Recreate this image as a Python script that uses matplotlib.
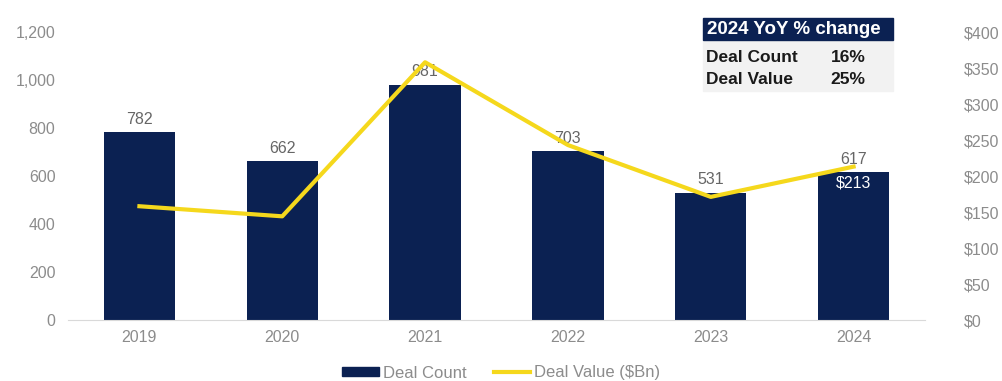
import numpy as np
import matplotlib.pyplot as plt
from matplotlib.patches import Rectangle
from matplotlib.lines import Line2D

years = ['2019', '2020', '2021', '2022', '2023', '2024']
deal_count = [782, 662, 981, 703, 531, 617]
deal_value = [158, 144, 358, 243, 171, 213]
left_ticks = [0, 200, 400, 600, 800, 1000, 1200]
right_ticks = [0, 50, 100, 150, 200, 250, 300, 350, 400]
yoy_rows = [('Deal Count', '16%'), ('Deal Value', '25%')]

navy = '#0b2152'
yellow = '#f5d81c'
grey = '#8c8c8c'

plt.rcParams['font.family'] = ['Liberation Sans', 'DejaVu Sans']

fig = plt.figure(figsize=(10.03, 3.81), dpi=100)
ax = fig.add_axes([68 / 1003, 1 - 320 / 381, (925 - 68) / 1003, (320 - 32) / 381])
ax2 = ax.twinx()

x = np.arange(len(years))
ax.bar(x, deal_count, width=0.5, color=navy, zorder=2)
ax2.plot(x, deal_value, color=yellow, lw=3, zorder=3)

ax.set_xlim(-0.5, len(years) - 0.5)
ax.set_ylim(0, 1200)
ax2.set_ylim(0, 400)
ax.set_xticks(x)
ax.set_xticklabels(years)
ax.set_yticks(left_ticks)
ax.set_yticklabels([f'{v:,}' for v in left_ticks])
ax2.set_yticks(right_ticks)
ax2.set_yticklabels([f'${v}' for v in right_ticks])

for a in (ax, ax2):
    for s in a.spines.values():
        s.set_visible(False)
    a.tick_params(length=0, labelsize=11.5, labelcolor=grey, pad=7)
ax.spines['bottom'].set_visible(True)
ax.spines['bottom'].set_color('#d9d9d9')
ax.tick_params(axis='y', pad=9)
ax2.tick_params(axis='y', pad=28)

# count labels above bars, value label inside the last bar
for xi, c in zip(x, deal_count):
    ax.text(xi, c + 22, f'{c}', ha='center', va='bottom', fontsize=11.5, color='#666666', zorder=4)
ax2.text(x[-1], deal_value[-1] - 12, f'${deal_value[-1]}', ha='center', va='top',
         fontsize=11.5, color='white', zorder=4)

# YoY summary box
box_l, box_r = 703 / 1003, 893 / 1003
fig.patches.append(Rectangle((box_l, 1 - 91 / 381), box_r - box_l, 50 / 381,
                             transform=fig.transFigure, color='#f2f2f2', zorder=5))
fig.patches.append(Rectangle((box_l, 1 - 40 / 381), box_r - box_l, 22 / 381,
                             transform=fig.transFigure, color=navy, zorder=5))
fig.text(box_l + 4 / 1003, 1 - 29 / 381, '2024 YoY % change', color='white',
         fontsize=13.5, fontweight='bold', va='center', zorder=6)
for i, (name, pct) in enumerate(yoy_rows):
    yy = 1 - (57 + 23 * i) / 381
    fig.text(box_l + 3 / 1003, yy, name, fontsize=12.5, fontweight='bold',
             color='#1a1a1a', va='center', zorder=6)
    fig.text(848 / 1003, yy, pct, fontsize=12.5, fontweight='bold',
             color='#1a1a1a', va='center', ha='center', zorder=6)

handles = [Rectangle((0, 0), 1, 1, color=navy), Line2D([], [], color=yellow, lw=3)]
fig.legend(handles, ['Deal Count', 'Deal Value ($Bn)'], loc='center',
           bbox_to_anchor=(0.5, 1 - 373 / 381), ncol=2, frameon=False,
           fontsize=12, labelcolor=grey, handlelength=2.2, handleheight=0.5,
           handletextpad=0.25, columnspacing=1.6)

fig.savefig('out.png', dpi=100)
